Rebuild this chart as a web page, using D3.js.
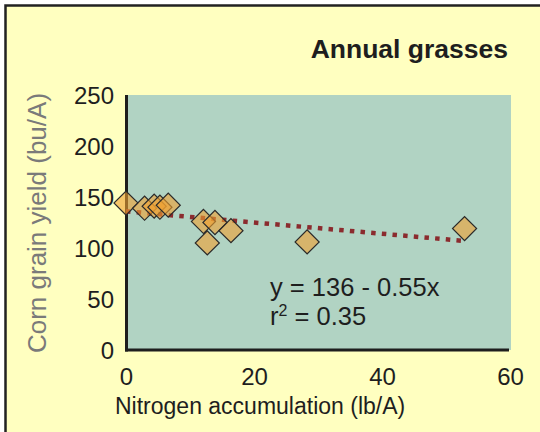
<!DOCTYPE html>
<html>
<head>
<meta charset="utf-8">
<script src="https://cdn.jsdelivr.net/npm/d3@7"></script>
<style>
  html, body { margin: 0; padding: 0; background: #ffffff; }
  svg { display: block; }
  text { font-family: "Liberation Sans", Arial, Helvetica, sans-serif; }
</style>
</head>
<body>
<svg id="chart" width="540" height="432"></svg>
<script>
// ---- data ----
const title = "Annual grasses";
const xLabel = "Nitrogen accumulation (lb/A)";
const yLabel = "Corn grain yield (bu/A)";
const nitrogen = [0, 2.9, 4.4, 5.3, 6.6, 12.1, 13.9, 16.4, 12.7, 28.3, 52.9];
const yieldVals = [144, 139, 141, 140, 142, 126, 125, 117, 105, 106, 119];
const xTicks = [0, 20, 40, 60];
const yTicks = [0, 50, 100, 150, 200, 250];
const fitIntercept = 136;
const fitSlope = -0.55;
const fitRange = [0, 53];
const eqLine1 = "y = 136 - 0.55x";
const r2Value = "0.35";

// ---- layout ----
const svg = d3.select("#chart");
const W = 540, H = 432;
const plot = { left: 126, right: 511, top: 95, bottom: 350 };

const x = d3.scaleLinear().domain([0, 60]).range([plot.left, 510]);
const y = d3.scaleLinear().domain([0, 250]).range([plot.bottom, plot.top]);

// outer frame
svg.append("rect").attr("x", 0).attr("y", 0).attr("width", W).attr("height", H).attr("fill", "#ffffff");
svg.append("rect").attr("x", 5.5).attr("y", 5.5).attr("width", W + 20).attr("height", H + 20)
  .attr("fill", "#ffffc0").attr("stroke", "#222222").attr("stroke-width", 2.5);

// plot background
svg.append("rect").attr("x", plot.left).attr("y", plot.top)
  .attr("width", plot.right - plot.left).attr("height", plot.bottom - plot.top)
  .attr("fill", "#b1d3c3");

// title
svg.append("text").attr("x", 508).attr("y", 58).attr("text-anchor", "end")
  .attr("font-size", 26.5).attr("font-weight", "bold").attr("fill", "#1e1e1e").text(title);

// axes
const xAxis = d3.axisBottom(x).tickValues(xTicks).tickSize(0).tickPadding(0).tickFormat(d3.format("d"));
const yAxis = d3.axisLeft(y).tickValues(yTicks).tickSize(0).tickPadding(0).tickFormat(d3.format("d"));

const gx = svg.append("g").attr("transform", `translate(0,${plot.bottom})`).call(xAxis);
gx.select(".domain").remove();
gx.selectAll("text").attr("font-size", 24).attr("fill", "#1e1e1e")
  .attr("font-family", "Liberation Sans, Arial, sans-serif")
  .attr("y", 35).attr("dy", 0);

const gy = svg.append("g").attr("transform", `translate(114,0)`).call(yAxis);
gy.select(".domain").remove();
gy.selectAll("text").attr("font-size", 24).attr("fill", "#1e1e1e")
  .attr("font-family", "Liberation Sans, Arial, sans-serif")
  .attr("x", 0).attr("dy", "0.36em");

// axis lines
svg.append("line").attr("x1", plot.left + 0.5).attr("x2", plot.left + 0.5)
  .attr("y1", plot.top).attr("y2", plot.bottom + 1.5)
  .attr("stroke", "#1e1e1e").attr("stroke-width", 3);
svg.append("line").attr("x1", plot.left - 1).attr("x2", 509)
  .attr("y1", plot.bottom).attr("y2", plot.bottom)
  .attr("stroke", "#1e1e1e").attr("stroke-width", 3);

// axis titles
svg.append("text").attr("x", 115).attr("y", 414)
  .attr("text-anchor", "start").attr("font-size", 23).attr("fill", "#1e1e1e").text(xLabel);
svg.append("text").attr("transform", `translate(46,223) rotate(-90)`)
  .attr("text-anchor", "middle").attr("font-size", 26).attr("fill", "#7a7a7a").text(yLabel);

// regression line
svg.append("line")
  .attr("x1", x(fitRange[0])).attr("y1", y(fitIntercept + fitSlope * fitRange[0]))
  .attr("x2", x(fitRange[1])).attr("y2", y(fitIntercept + fitSlope * fitRange[1]))
  .attr("stroke", "#8b2b2e").attr("stroke-width", 4.5).attr("stroke-dasharray", "4.5,6.2");

// points (square rotated 45° = diamond)
const pts = nitrogen.map((n, i) => ({ n, v: yieldVals[i] }));
svg.append("g").selectAll("path").data(pts).join("path")
  .attr("d", d3.symbol(d3.symbolSquare, 290)())
  .attr("transform", d => `translate(${x(d.n)},${y(d.v)}) rotate(45)`)
  .attr("fill", "rgba(240,160,48,0.6)")
  .attr("stroke", "#2a2a2a").attr("stroke-width", 1.2);

// equation
const eq = svg.append("text").attr("x", 270).attr("y", 296).attr("font-size", 25.5).attr("fill", "#1e1e1e");
eq.text(eqLine1);
const r2 = svg.append("text").attr("x", 270).attr("y", 325).attr("font-size", 25.5).attr("fill", "#1e1e1e");
r2.append("tspan").text("r");
r2.append("tspan").attr("font-size", 16).attr("dy", -9).text("2");
r2.append("tspan").attr("dy", 9).text(" = " + r2Value);
</script>
</body>
</html>
